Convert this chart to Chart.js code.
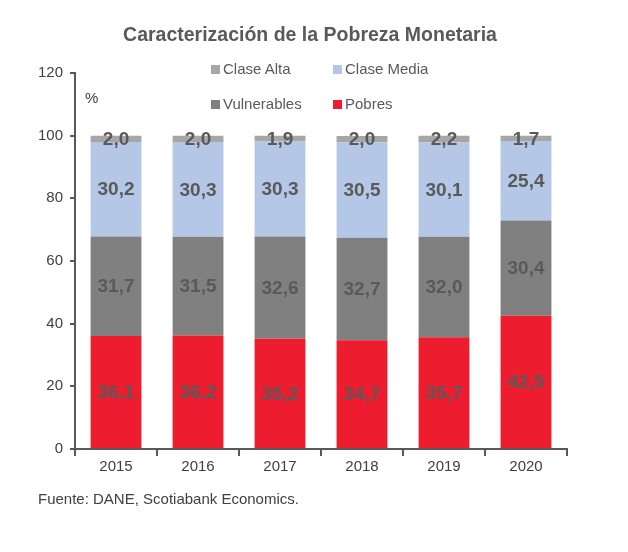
<!DOCTYPE html>
<html>
<head>
<meta charset="utf-8">
<script src="https://cdn.jsdelivr.net/npm/chart.js@4/dist/chart.umd.min.js"></script>
<style>
  body { margin: 0; background: #fff; font-family: "Liberation Sans", Arial, sans-serif; }
  #wrap { position: relative; width: 628px; height: 552px; }
  #myChart { position: absolute; left: 0; top: 0; }
  .title { position: absolute; left: 0; width: 620px; top: 23px; text-align: center;
    font-weight: bold; font-size: 19.5px; color: #595959; }
  .pct { position: absolute; left: 85px; top: 89px; font-size: 15px; color: #404040; }
  .source { position: absolute; left: 38px; top: 490px; font-size: 15px; color: #404040; }
  .legend { position: absolute; font-size: 15px; color: #595959; }
  .legend span.box { display: inline-block; width: 9px; height: 9px; margin-right: 3px; }
</style>
</head>
<body>
<div id="wrap">
  <canvas id="myChart" width="628" height="552"></canvas>
  <div class="title">Caracterización de la Pobreza Monetaria</div>
  <div class="pct">%</div>
  <div id="legendBox"></div>
  <div class="source">Fuente: DANE, Scotiabank Economics.</div>
</div>
<script>
'use strict';

const years = ['2015', '2016', '2017', '2018', '2019', '2020'];
const pobres = [36.1, 36.2, 35.2, 34.7, 35.7, 42.5];
const vulnerables = [31.7, 31.5, 32.6, 32.7, 32.0, 30.4];
const claseMedia = [30.2, 30.3, 30.3, 30.5, 30.1, 25.4];
const claseAlta = [2.0, 2.0, 1.9, 2.0, 2.2, 1.7];
const yTicks = [0, 20, 40, 60, 80, 100, 120];

const chartCanvas = document.getElementById('myChart');

// draws the value in the middle of every bar segment
const barLabels = {
  id: 'barLabels',
  afterDatasetsDraw(chart) {
    const ctx = chart.ctx;
    ctx.save();
    ctx.font = 'bold 19px "Liberation Sans", Arial, sans-serif';
    ctx.fillStyle = '#595959';
    ctx.textAlign = 'center';
    ctx.textBaseline = 'middle';
    chart.data.datasets.forEach(function(ds, i) {
      chart.getDatasetMeta(i).data.forEach(function(bar, j) {
        const mid = (bar.y + bar.base) / 2;
        ctx.fillText(ds.data[j].toFixed(1).replace('.', ','), bar.x, mid + 1);
      });
    });
    ctx.restore();
  }
};

const goatChart = new Chart(chartCanvas, {
  type: 'bar',
  data: {
    labels: years,
    datasets: [{
      label: 'Pobres',
      data: pobres,
      backgroundColor: '#ED1C2E'
    }, {
      label: 'Vulnerables',
      data: vulnerables,
      backgroundColor: '#808080'
    }, {
      label: 'Clase Media',
      data: claseMedia,
      backgroundColor: '#B4C7E7'
    }, {
      label: 'Clase Alta',
      data: claseAlta,
      backgroundColor: '#A6A6A6'
    }]
  },
  options: {
    responsive: false,
    animation: false,
    layout: { padding: { top: 73, left: 31, right: 61, bottom: 74 } },
    datasets: { bar: { categoryPercentage: 1, barPercentage: 0.62 } },
    plugins: {
      legend: { display: false },
      tooltip: { enabled: false }
    },
    scales: {
      x: {
        stacked: true,
        border: { color: '#595959', width: 2 },
        grid: { offset: true, drawOnChartArea: false, drawTicks: true, tickLength: 7, color: '#595959', lineWidth: 2 },
        ticks: { color: '#404040', font: { size: 15, family: '"Liberation Sans", Arial' }, padding: 2 }
      },
      y: {
        stacked: true,
        min: 0,
        max: 120,
        afterBuildTicks: function(axis) {
          axis.ticks = yTicks.map(function(v) { return { value: v }; });
        },
        border: { color: '#595959', width: 2 },
        grid: { drawOnChartArea: false, drawTicks: true, tickLength: 5, color: '#595959', lineWidth: 2 },
        ticks: { color: '#404040', font: { size: 15, family: '"Liberation Sans", Arial' }, padding: 7 }
      }
    }
  },
  plugins: [barLabels]
});

// two-row legend, same layout as the picture
const legendBox = document.getElementById('legendBox');
const legendOrder = [[3, 211, 60], [2, 333, 60], [1, 211, 95], [0, 333, 95]];
legendOrder.forEach(function(item) {
  const ds = goatChart.data.datasets[item[0]];
  const div = document.createElement('div');
  div.className = 'legend';
  div.style.left = item[1] + 'px';
  div.style.top = item[2] + 'px';
  div.innerHTML = '<span class="box" style="background:' + ds.backgroundColor + '"></span>' + ds.label;
  legendBox.appendChild(div);
});
</script>
</body>
</html>
